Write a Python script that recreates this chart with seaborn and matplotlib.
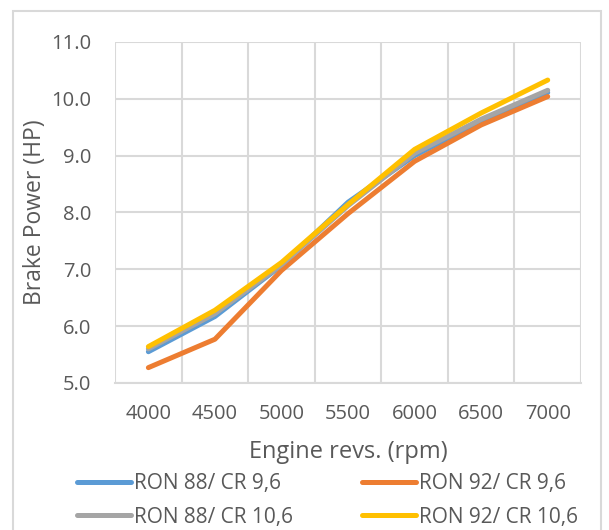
import matplotlib
matplotlib.use("Agg")
import matplotlib.pyplot as plt
from matplotlib.patches import Rectangle
from matplotlib.ticker import FixedLocator
import seaborn as sns
import pandas as pd

# Engine speed categories and brake power per fuel / compression ratio
rpm = ["4000", "4500", "5000", "5500", "6000", "6500", "7000"]
ron88_cr96 = [5.55, 6.17, 7.07, 8.18, 9.00, 9.60, 10.11]
ron92_cr96 = [5.27, 5.77, 6.98, 7.98, 8.90, 9.54, 10.04]
ron88_cr106 = [5.60, 6.22, 7.08, 8.12, 9.04, 9.64, 10.15]
ron92_cr106 = [5.64, 6.28, 7.12, 8.14, 9.11, 9.75, 10.33]

series_names = ["RON 88/ CR 9,6", "RON 92/ CR 9,6", "RON 88/ CR 10,6", "RON 92/ CR 10,6"]
series_values = [ron88_cr96, ron92_cr96, ron88_cr106, ron92_cr106]
colors = ["#5B9BD5", "#ED7D31", "#A5A5A5", "#FFC000"]

rows = []
for name, vals in zip(series_names, series_values):
    for r, v in zip(rpm, vals):
        rows.append({"rpm": r, "power": v, "series": name})
df = pd.DataFrame(rows)

sns.set_theme(style="white")
plt.rcParams["font.family"] = ["Open Sans", "DejaVu Sans"]
text_color = "#595959"
grid_color = "#D9D9D9"

fig = plt.figure(figsize=(6.09, 5.30), dpi=100)
ax = fig.add_axes([0.189, 0.2774, 0.765, 0.6434])

# outer chart frame
fig.patches.append(Rectangle((0.021, -0.05), 0.966, 1.029, transform=fig.transFigure,
                             fill=False, edgecolor=grid_color, linewidth=1.5, zorder=0))

sns.lineplot(data=df, x="rpm", y="power", hue="series", hue_order=series_names,
             palette=colors, linewidth=3.6, ax=ax, legend=True, sort=False)
for line in ax.get_lines():
    line.set_solid_capstyle("round")
    line.set_solid_joinstyle("round")

ax.set_xlim(-0.5, len(rpm) - 0.5)
ax.set_ylim(5.0, 11.0)
ax.set_yticks([5, 6, 7, 8, 9, 10, 11])
ax.set_yticklabels([f"{v:.1f}" for v in range(5, 12)])
ax.set_xticks(range(len(rpm)))
ax.set_xticklabels(rpm)
ax.xaxis.set_minor_locator(FixedLocator([i - 0.5 for i in range(len(rpm) + 1)]))

ax.grid(True, axis="y", which="major", color=grid_color, linewidth=1.5)
ax.grid(True, axis="x", which="minor", color=grid_color, linewidth=1.5)
ax.grid(False, axis="x", which="major")
ax.set_axisbelow(True)
for s in ax.spines.values():
    s.set_visible(False)
ax.spines["bottom"].set_visible(True)
ax.spines["bottom"].set_color(grid_color)
ax.spines["bottom"].set_linewidth(1.5)

ax.tick_params(axis="both", which="both", length=0, labelsize=14.5, colors=text_color)
ax.tick_params(axis="y", pad=17)
ax.tick_params(axis="x", pad=15)

ax.set_xlabel("Engine revs. (rpm)", fontsize=17, color=text_color, labelpad=12)
ax.set_ylabel("Brake Power (HP)", fontsize=16.5, color=text_color, labelpad=3)

# legend filled row by row: blue, orange / gray, yellow
handles, labels = ax.get_legend_handles_labels()
ax.get_legend().remove()
order = [0, 2, 1, 3]
leg = fig.legend([handles[i] for i in order], [labels[i] for i in order],
                 loc="center", bbox_to_anchor=(0.538, 0.056), ncol=2,
                 frameon=False, fontsize=15, handlelength=2.6, handletextpad=0.15,
                 columnspacing=3.3, labelspacing=0.6)
for t in leg.get_texts():
    t.set_color(text_color)
for h in leg.get_lines():
    h.set_linewidth(3.6)

fig.savefig("out.png", dpi=100)
